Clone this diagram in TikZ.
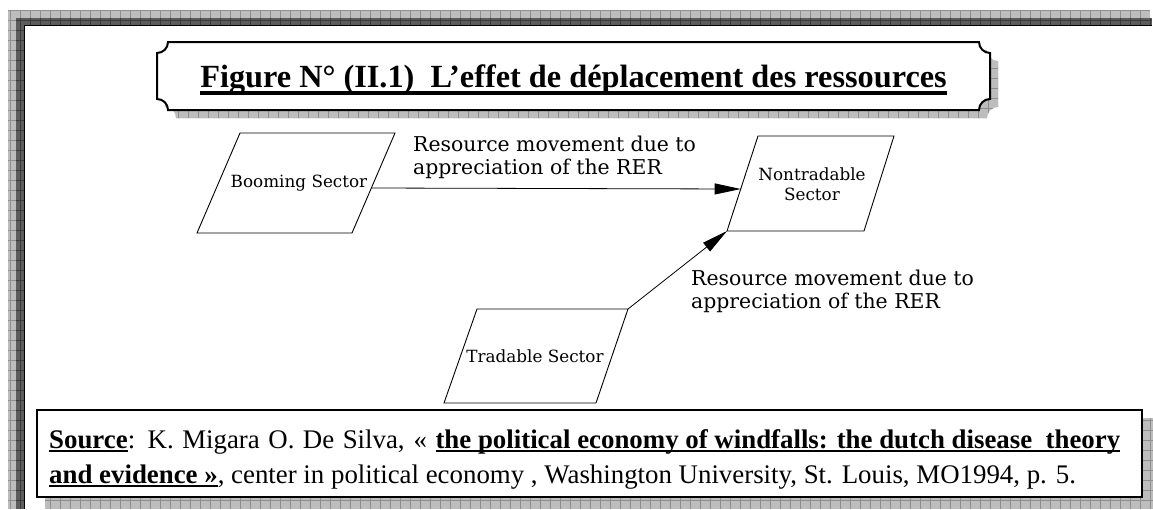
\documentclass[tikz,border=0pt]{standalone}
\usepackage{fontspec}
\setmainfont{Liberation Serif}
\newfontfamily\diagramfamily{DejaVu Serif}
\usetikzlibrary{arrows.meta,calc}

\definecolor{bandL}{HTML}{BDBDBD}
\definecolor{bandLline}{HTML}{8E8E8E}
\definecolor{bandD}{HTML}{5C5C5C}
\definecolor{bandDline}{HTML}{3A3A3A}

% thick rule under a piece of text: #1 gap below baseline, #2 rule bottom
\newcommand\ulbox[3]{\setbox0\hbox{#3}\rlap{\vrule height -#1 depth #2 width \wd0}\box0}

\newcommand\dgnodefont{\diagramfamily\fontsize{16.8}{19}\selectfont}
\newcommand\dglabelfont{\diagramfamily\fontsize{20.4}{23}\selectfont}
\newcommand\dgtitlefont{\fontsize{32.3}{36}\selectfont\bfseries}
\newcommand\dgsourcefont{\fontsize{26.85}{35}\selectfont}

\tikzset{
  bandlight/.style={fill=bandL},
  banddark/.style={fill=bandD},
  gridlight/.style={draw=bandLline, line width=0.5pt},
  griddark/.style={draw=bandDline, line width=0.5pt},
  paraline/.style={draw, line width=0.9pt, line join=miter},
  sectortext/.style={font=\dgnodefont, align=center, inner sep=0pt},
  flowarrow/.style={line width=0.8pt, -{Triangle[length=26pt,width=11pt]}},
  arrowlabel/.style={font=\dglabelfont, align=left, inner sep=0pt, anchor=north west},
  notchedbox/.style={insert path={(168,42) -- (979,42)
      arc[start angle=180,end angle=90,radius=11] -- (990,99)
      arc[start angle=270,end angle=180,radius=11] -- (168,110)
      arc[start angle=0,end angle=-90,radius=11] -- (157,53)
      arc[start angle=90,end angle=0,radius=11] -- cycle}},
}

\begin{document}
\begin{tikzpicture}[x=1pt,y=-1pt]
\useasboundingbox (0,0) rectangle (1153,509);

% page frame: patterned bands on the top and left edges
\fill[bandlight] (8,10) rectangle (1150,18);
\fill[bandlight] (8,10) rectangle (16,509);
\begin{scope}
  \clip (8,10) rectangle (1150,18) (8,10) rectangle (16,509);
  \draw[gridlight, step=10pt] (0,0) grid (1153,509);
\end{scope}
\fill[banddark] (16,18) rectangle (1152,25);
\fill[banddark] (16,18) rectangle (24,509);
\begin{scope}
  \clip (16,18) rectangle (1152,25) (16,18) rectangle (24,509);
  \draw[griddark, step=10pt] (0,0) grid (1153,509);
\end{scope}
\draw[line width=1.6pt] (24.6,509) -- (24.6,25.6) -- (1152,25.6);

% title plate with its shadow
\begin{scope}[shift={(8,8)}]
  \fill[bandlight][notchedbox];
  \begin{scope}
    \clip[notchedbox];
    \draw[gridlight, step=10pt] (140,30) grid (1000,120);
  \end{scope}
\end{scope}
\draw[line width=2pt, fill=white][notchedbox];
\node[anchor=base, font=\dgtitlefont, inner sep=0pt] (title) at (573.5,87)
  {\ulbox{4pt}{7.5pt}{Figure N° (II.1)\ \ L’effet de déplacement des ressources}};

% sector outlines (parallelograms)
\coordinate (boomTL) at (240,133);  \coordinate (boomTR) at (395,133);
\coordinate (boomBR) at (352,233);  \coordinate (boomBL) at (197,233);
\coordinate (ntTL) at (758,136);    \coordinate (ntTR) at (894,136);
\coordinate (ntBR) at (864,231);    \coordinate (ntBL) at (727,231);
\coordinate (trTL) at (477,309);    \coordinate (trTR) at (628,309);
\coordinate (trBR) at (596,403);    \coordinate (trBL) at (444,403);
\draw[paraline] (boomTL) -- (boomTR) -- (boomBR) -- (boomBL) -- cycle;
\draw[paraline] (ntTL) -- (ntTR) -- (ntBR) -- (ntBL) -- cycle;
\draw[paraline] (trTL) -- (trTR) -- (trBR) -- (trBL) -- cycle;
\node[sectortext] (boom) at (299,183) {Booming Sector};
\node[sectortext] (nontrad) at (812,184) {Nontradable\\[1pt]Sector};
\node[sectortext] (trad) at (535,356) {Tradable Sector};

% resource movements
\coordinate (boomOut) at ($(boomTR)!0.55!(boomBR)$);
\coordinate (ntIn) at ($(ntTL)!0.558!(ntBL)$);
\draw[flowarrow] (boomOut) -- (ntIn);
\draw[flowarrow] (trTR) -- (ntBL);
\node[arrowlabel] (lab1) at (413,136) {Resource movement due to\\appreciation of the RER};
\node[arrowlabel] (lab2) at (691,270) {Resource movement due to\\appreciation of the RER};

% source note with its shadow
\fill[bandlight] (45,418) rectangle (1153,509);
\begin{scope}
  \clip (45,418) rectangle (1153,509);
  \draw[gridlight, step=10pt] (40,410) grid (1153,509);
\end{scope}
\draw[line width=2pt, fill=white] (37,410) rectangle (1142,497);
\node[anchor=base west, align=left, font=\dgsourcefont, inner sep=0pt] (source) at (49,483)
  {\makebox[1071pt][s]{\ulbox{1.5pt}{3.5pt}{\bfseries Source}: K. Migara O. De Silva, « \ulbox{1.5pt}{3.5pt}{\bfseries the political economy of windfalls: the dutch disease\ \ theory}}\\
   \ulbox{1.5pt}{3.5pt}{\bfseries and evidence »}, center in political economy , Washington University, St. Louis, MO1994, p. 5.};
\end{tikzpicture}
\end{document}
